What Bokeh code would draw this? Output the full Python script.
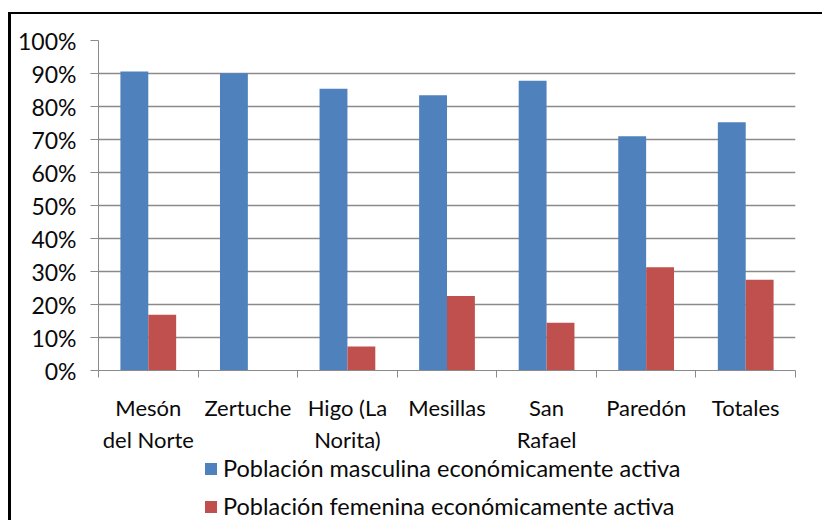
from bokeh.plotting import figure
from bokeh.layouts import column
from bokeh.models import FixedTicker, Legend, LegendItem, ColumnDataSource, Range1d
from bokeh.transform import dodge
from bokeh.embed import file_html
from bokeh.resources import INLINE

categories = ["Mesón\ndel Norte", "Zertuche", "Higo (La\nNorita)", "Mesillas",
              "San\nRafael", "Paredón", "Totales"]
masculina = [90.6, 90.1, 85.4, 83.4, 87.8, 71.0, 75.2]
femenina = [16.9, 0.0, 7.3, 22.6, 14.5, 31.3, 27.5]
y_ticks = [0, 10, 20, 30, 40, 50, 60, 70, 80, 90, 100]
y_tick_labels = ["0%", "10%", "20%", "30%", "40%", "50%", "60%", "70%", "80%", "90%", "100%"]
series_names = ["Población masculina económicamente activa",
                "Población femenina económicamente activa"]

BLUE = "#4F81BD"
RED = "#C0504D"
GRID = "#8a8a8a"
FONT = "Lato"
TXT = "#0a0a0a"

n = len(categories)
xpos = [i + 0.5 for i in range(n)]
src = ColumnDataSource(dict(x=xpos, m=masculina, f=femenina))

p = figure(width=814, height=442, x_range=Range1d(0, n), y_range=Range1d(0, 100),
           output_backend="svg", toolbar_location=None,
           min_border_left=87, min_border_right=30, min_border_top=26, min_border_bottom=86)
p.styles = {"border-left": "3px solid #000", "border-top": "2px solid #000",
            "margin-top": "12px", "margin-left": "8px"}
p.outline_line_color = None
p.background_fill_color = "white"

r1 = p.vbar(x=dodge("x", -0.14, range=p.x_range), top="m", width=0.28, source=src,
            fill_color=BLUE, line_color=None)
r2 = p.vbar(x=dodge("x", 0.14, range=p.x_range), top="f", width=0.28, source=src,
            fill_color=RED, line_color=None)

# x axis
xa = p.xaxis[0]
xa.ticker = FixedTicker(ticks=xpos, minor_ticks=list(range(n + 1)))
xa.major_label_overrides = {x: c for x, c in zip(xpos, categories)}
xa.major_tick_out = 0
xa.major_tick_in = 0
xa.minor_tick_out = 7
xa.minor_tick_in = 0
xa.minor_tick_line_color = GRID
xa.axis_line_color = GRID
xa.major_label_standoff = 16
xa.major_label_text_font = FONT
xa.major_label_text_font_size = "22px"
xa.major_label_text_color = TXT
xa.major_label_text_line_height = 1.2

# y axis
ya = p.yaxis[0]
ya.ticker = FixedTicker(ticks=y_ticks)
ya.major_label_overrides = {t: l for t, l in zip(y_ticks, y_tick_labels)}
ya.major_tick_out = 8
ya.major_tick_in = 0
ya.minor_tick_line_color = None
ya.major_tick_line_color = GRID
ya.axis_line_color = GRID
ya.major_label_standoff = 14
ya.major_label_text_font = FONT
ya.major_label_text_font_size = "23px"
ya.major_label_text_color = TXT

p.xgrid.grid_line_color = None
p.ygrid.ticker = FixedTicker(ticks=y_ticks)
p.ygrid.grid_line_color = GRID
p.ygrid.grid_line_width = 1.5

# legend panel (separate figure, same series styles)
pl = figure(width=814, height=66, x_range=Range1d(0, 1), y_range=Range1d(0, 1),
            output_backend="svg", toolbar_location=None,
            x_axis_location=None, y_axis_location=None,
            min_border_left=0, min_border_right=0, min_border_top=0, min_border_bottom=0)
pl.styles = {"border-left": "3px solid #000", "margin-left": "8px"}
pl.outline_line_color = None
pl.grid.grid_line_color = None
offscreen = ColumnDataSource(dict(x=[-5.0], top=[-5.0]))
l1 = pl.vbar(x="x", top="top", width=0.1, source=offscreen, fill_color=BLUE, line_color=None)
l2 = pl.vbar(x="x", top="top", width=0.1, source=offscreen, fill_color=RED, line_color=None)

legend = Legend(items=[LegendItem(label=series_names[0], renderers=[l1]),
                       LegendItem(label=series_names[1], renderers=[l2])],
                location=(105, 0), orientation="vertical")
legend.border_line_color = None
legend.background_fill_alpha = 0
legend.padding = 0
legend.margin = 0
legend.spacing = 10
legend.glyph_width = 15
legend.glyph_height = 15
legend.label_height = 22
legend.label_standoff = 5
legend.label_text_font = FONT
legend.label_text_font_size = "23.5px"
legend.label_text_color = TXT
pl.add_layout(legend, "center")

layout = column(p, pl, spacing=0)
open("out.html", "w").write(file_html(layout, INLINE))
